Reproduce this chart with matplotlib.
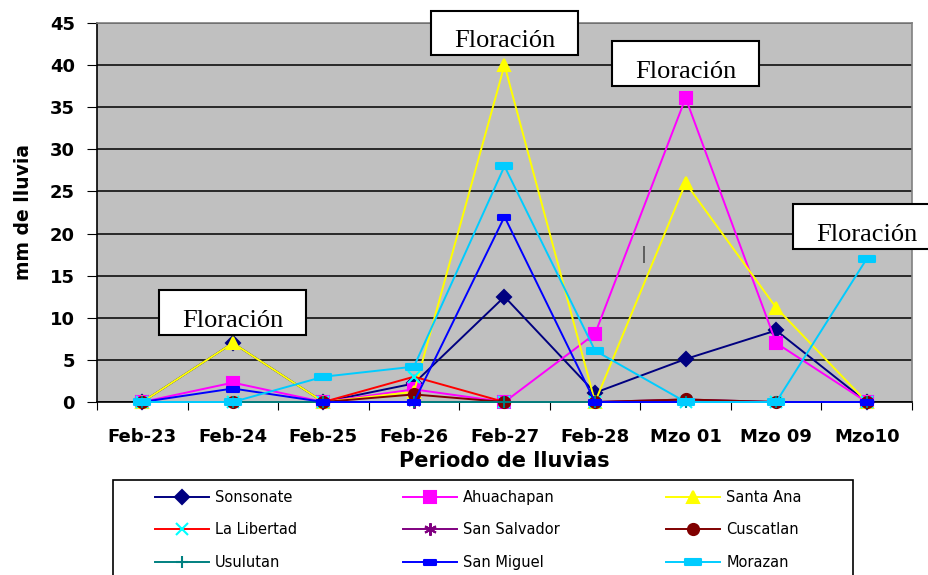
import numpy as np
import matplotlib.pyplot as plt
from matplotlib.path import Path
from matplotlib.patches import Rectangle

# Datos de lluvia (mm) por periodo
periodos = ['Feb-23', 'Feb-24', 'Feb-25', 'Feb-26', 'Feb-27', 'Feb-28', 'Mzo 01', 'Mzo 09', 'Mzo10']

sonsonate = [0, 7, 0, 2.2, 12.5, 1.1, 5.1, 8.5, 0]
ahuachapan = [0, 2.3, 0, 1.5, 0, 8.1, 36.1, 7.0, 0]
santa_ana = [0, 7, 0, 1.2, 40, 0, 26.0, 11.2, 0]
la_libertad = [0, 0, 0, 3.0, 0, 0, 0, 0, 0]
san_salvador = [0, 0, 0, 0, 0, 0, 0.3, 0, 0]
cuscatlan = [0, 0, 0, 0.9, 0, 0, 0.3, 0, 0]
usulutan = [0, 0, 0, 0, 0, 0, 0, 0, 0]
san_miguel = [0, 1.6, 0, 0, 22, 0, 0, 0, 0]
morazan = [0, 0, 3.0, 4.2, 28, 6.1, 0, 0, 17]

# posiciones (indice de periodo, mm) de las notas "Floración"
notas_x = [1, 4, 6, 8]
notas_y = [10.6, 43.8, 40.2, 20.8]

rect = Path([(-1, -0.45), (1, -0.45), (1, 0.45), (-1, 0.45), (-1, -0.45)],
            [Path.MOVETO, Path.LINETO, Path.LINETO, Path.LINETO, Path.CLOSEPOLY])
asterisco = (6, 2, 0)

series = [
    ('Sonsonate', sonsonate, '#000080', 'D', 7, '#000080'),
    ('Ahuachapan', ahuachapan, '#FF00FF', 's', 8, '#FF00FF'),
    ('Santa Ana', santa_ana, '#FFFF00', '^', 9, '#FFFF00'),
    ('La Libertad', la_libertad, '#FF0000', 'x', 8, '#00FFFF'),
    ('San Salvador', san_salvador, '#800080', asterisco, 9, '#800080'),
    ('Cuscatlan', cuscatlan, '#800000', 'o', 8, '#800000'),
    ('Usulutan', usulutan, '#008080', '+', 9, '#008080'),
    ('San Miguel', san_miguel, '#0000FF', rect, 8, '#0000FF'),
    ('Morazan', morazan, '#00CCFF', rect, 11, '#00CCFF'),
]

fig = plt.figure(figsize=(9.29, 5.75), dpi=100)
ax = fig.add_axes([97 / 929, 1 - 402 / 575, 815 / 929, 379 / 575])
ax.set_facecolor('#C0C0C0')

x = np.arange(len(periodos))
lineas = []
for nombre, valores, color, marca, tam, color_marca in series:
    l, = ax.plot(x, valores, color=color, lw=1.4, marker=marca, markersize=tam,
                 markerfacecolor=color_marca, markeredgecolor=color_marca,
                 markeredgewidth=1.5, label=nombre, clip_on=False, zorder=3)
    lineas.append(l)

ax.set_xlim(-0.5, len(periodos) - 0.5)
ax.set_ylim(0, 45)
ax.set_yticks(np.arange(0, 46, 5))
ax.yaxis.grid(True, color='black', lw=1.1)
ax.set_axisbelow(True)

# ticks entre categorias, etiquetas al centro
ax.set_xticks(np.arange(-0.5, len(periodos), 1))
ax.set_xticklabels([])
ax.set_xticks(x, minor=True)
ax.set_xticklabels(periodos, minor=True)
ax.tick_params(axis='x', which='major', direction='out', length=6, color='black')
ax.tick_params(axis='x', which='minor', length=0, pad=19)
ax.tick_params(axis='y', direction='out', length=7, pad=9)
for lab in ax.get_xticklabels(minor=True) + ax.get_yticklabels():
    lab.set_fontsize(13)
    lab.set_fontweight('bold')

for lado in ['left', 'bottom']:
    ax.spines[lado].set_color('black')
    ax.spines[lado].set_linewidth(1.2)
for lado in ['top', 'right']:
    ax.spines[lado].set_color('#808080')
    ax.spines[lado].set_linewidth(1.2)

ax.set_xlabel('Periodo de lluvias', fontsize=15, fontweight='bold', labelpad=3)
ax.set_ylabel('mm de lluvia', fontsize=13.5, fontweight='bold', labelpad=12)

# notas "Floración"
for nx, ny in zip(notas_x, notas_y):
    caja = Rectangle((nx - 0.81, ny - 2.65), 1.62, 5.3, facecolor='white',
                     edgecolor='black', lw=1.5, clip_on=False, zorder=5)
    ax.add_patch(caja)
    t = ax.text(nx, ny - 1.7, 'Floración', ha='center', va='baseline',
                fontsize=19, family='Liberation Serif', zorder=6, clip_on=False)
    t.set_clip_path(caja)

ax.text(5.54, 17.5, '|', ha='center', va='center', fontsize=14,
        family='Liberation Serif', zorder=4)

# leyenda por filas (como en Excel)
orden = [0, 3, 6, 1, 4, 7, 2, 5, 8]
leg = fig.legend([lineas[i] for i in orden], [series[i][0] for i in orden],
                 loc='upper left', bbox_to_anchor=(155 / 929, 1 - 490 / 575),
                 ncol=3, fontsize=10.5, frameon=False,
                 handlelength=3.7, handletextpad=0.4,
                 columnspacing=7.3, labelspacing=1.2, borderpad=0,
                 borderaxespad=0)
fig.add_artist(Rectangle((113 / 929, -0.05), (853 - 113) / 929, 95 / 575 + 0.05,
                         transform=fig.transFigure, fill=False,
                         edgecolor='black', lw=1.2))

fig.savefig('out.png', dpi=100)
